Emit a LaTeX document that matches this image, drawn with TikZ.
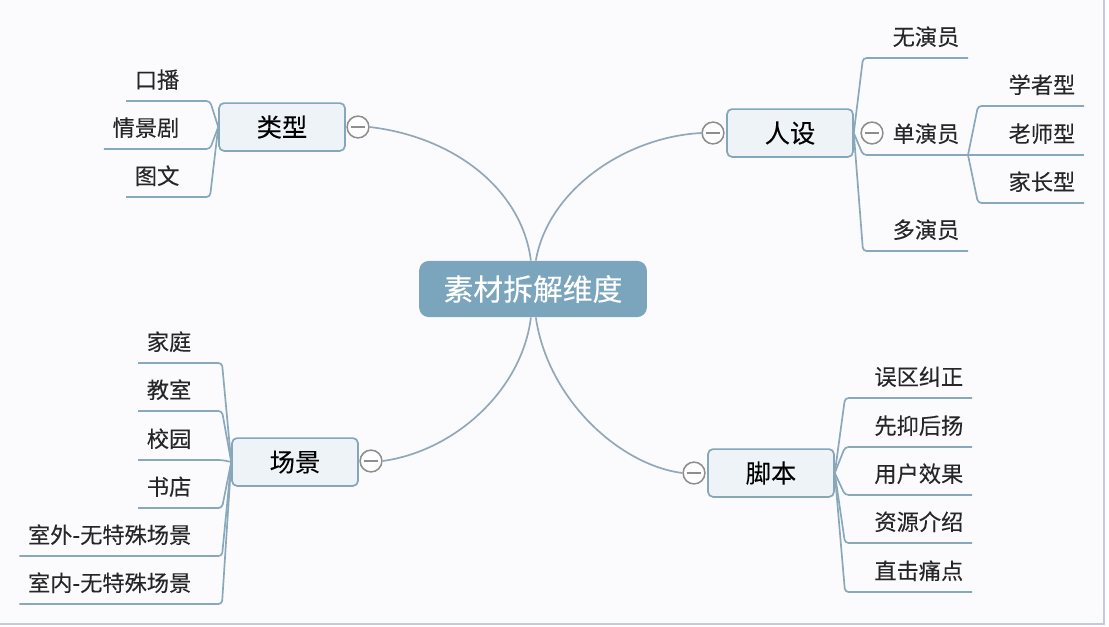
\documentclass[tikz,border=0pt]{standalone}
\usepackage{fontspec}
\setmainfont[FakeBold=0.12]{Noto Sans CJK SC}
\usetikzlibrary{positioning}

\definecolor{rootblue}{HTML}{7BA4BD}
\definecolor{topicfill}{HTML}{EEF3F8}
\definecolor{topicline}{HTML}{86A6BA}
\definecolor{branchline}{HTML}{8AA8BB}
\definecolor{curveline}{HTML}{93A8B6}
\definecolor{foldline}{HTML}{8E8E8E}
\definecolor{pagefill}{HTML}{FBFBFD}
\definecolor{edgeline}{HTML}{C3C7E8}

\tikzset{
  root/.style = {fill = rootblue, text = white, rounded corners = 7pt, minimum width = 162pt, minimum height = 40pt, font = \fontsize{21.2}{24}\selectfont},
  topic/.style = {draw = topicline, fill = topicfill, line width = 1.2pt, rounded corners = 3.5pt, minimum width = 89.5pt, minimum height = 34pt, inner sep = 0pt, font = \fontsize{18}{21}\selectfont},
  leaf/.style = {inner xsep = 6pt, inner ysep = 0pt, minimum height = 29.9pt, text = black!85, font = \fontsize{15.8}{19}\selectfont},
  fold/.style = {circle, draw = foldline, fill = white, line width = 1.1pt, minimum size = 15.5pt, inner sep = 0pt,
    path picture = {\draw[foldline, line width = 1.1pt] ([xshift = -5pt]path picture bounding box.center) -- ([xshift = 5pt]path picture bounding box.center);}},
  branch/.style = {draw = branchline, line width = 1.2pt, rounded corners = 2.5pt},
  curve/.style = {draw = curveline, line width = 1.2pt}
}

\begin{document}
\begin{tikzpicture}[x = 0.025cm, y = -0.025cm]
\useasboundingbox (0, 0) rectangle (1109, 626);
\fill[white] (0, 0) rectangle (1109, 626);
\draw[edgeline, line width = 1.6pt, fill = pagefill] (-5, -5) rectangle (1104, 624);

% main topics
\node[root] (root) at (533, 289) {素材拆解维度};
\node[topic] (type) at (282, 127) {类型};
\node[topic] (person) at (790, 133) {人设};
\node[topic] (scene) at (295, 462) {场景};
\node[topic] (script) at (771, 473) {脚本};

\node[fold] (typefold) at (358, 127) {};
\node[fold] (personfold) at (713, 133) {};
\node[fold] (scenefold) at (371, 461) {};
\node[fold] (scriptfold) at (694, 473) {};

% type leaves
\node[leaf, anchor = south east] (kou) at (188, 101) {口播};
\node[leaf, anchor = south east] (qing) at (188, 149) {情景剧};
\node[leaf, anchor = south east] (tu) at (188, 197) {图文};

% person leaves
\node[leaf, anchor = south east] (wu) at (968, 58) {无演员};
\node[leaf, anchor = south east] (dan) at (968, 155) {单演员};
\node[leaf, anchor = south east] (duo) at (968, 251) {多演员};
\node[fold] (danfold) at (872, 133) {};
\node[leaf, anchor = south east] (xue) at (1084, 106) {学者型};
\node[leaf, anchor = south east] (lao) at (1084, 155) {老师型};
\node[leaf, anchor = south east] (jia) at (1084, 203) {家长型};

% scene leaves
\node[leaf, anchor = south east] (home) at (200, 363) {家庭};
\node[leaf, anchor = south east] (room) at (200, 411) {教室};
\node[leaf, anchor = south east] (campus) at (200, 460) {校园};
\node[leaf, anchor = south east] (shop) at (200, 508) {书店};
\node[leaf, anchor = south east] (outdoor) at (200, 556) {室外-无特殊场景};
\node[leaf, anchor = south east] (indoor) at (200, 604) {室内-无特殊场景};

% script leaves
\node[leaf, anchor = south east] (wrong) at (972, 398) {误区纠正};
\node[leaf, anchor = south east] (first) at (972, 447) {先抑后扬};
\node[leaf, anchor = south east] (effect) at (972, 495) {用户效果};
\node[leaf, anchor = south east] (source) at (972, 543) {资源介绍};
\node[leaf, anchor = south east] (pain) at (972, 592) {直击痛点};

\coordinate (typeknee) at (210, 127);
\coordinate (personknee) at (863, 133);
\coordinate (dansplit) at (978, 155);
\coordinate (sceneknee) at (222, 461);
\coordinate (scriptknee) at (845, 473);

% curves to the root
\draw[curve] (typefold.east) .. controls (455, 137) and (522, 190) .. ([xshift = -1.5pt]root.north);
\draw[curve] (personfold.west) .. controls (625, 137) and (548, 190) .. ([xshift = 2pt]root.north);
\draw[curve] (scenefold.east) .. controls (455, 451) and (522, 390) .. ([xshift = -1.5pt]root.south);
\draw[curve] (scriptfold.west) .. controls (620, 465) and (548, 400) .. ([xshift = 2pt]root.south);

% branches
\draw[branch] (kou.south west) -- (kou.south west -| typeknee) -- (type.west);
\draw[branch] (qing.south west) -- (qing.south west -| typeknee) -- (type.west);
\draw[branch] (tu.south west) -- (tu.south west -| typeknee) -- (type.west);

\draw[branch] (wu.south east) -- (wu.south east -| personknee) -- (person.east);
\draw[branch] (dan.south east) -- (dan.south east -| personknee) -- (person.east);
\draw[branch] (duo.south east) -- (duo.south east -| personknee) -- (person.east);

\draw[branch] (xue.south east) -- (xue.south east -| dansplit) -- (dan.south east);
\draw[branch] (lao.south east) -- (dan.south east);
\draw[branch] (jia.south east) -- (jia.south east -| dansplit) -- (dan.south east);

\draw[branch] (home.south west) -- (home.south west -| sceneknee) -- (scene.west);
\draw[branch] (room.south west) -- (room.south west -| sceneknee) -- (scene.west);
\draw[branch] (campus.south west) -- (campus.south west -| sceneknee) -- (scene.west);
\draw[branch] (shop.south west) -- (shop.south west -| sceneknee) -- (scene.west);
\draw[branch] (outdoor.south west) -- (outdoor.south west -| sceneknee) -- (scene.west);
\draw[branch] (indoor.south west) -- (indoor.south west -| sceneknee) -- (scene.west);

\draw[branch] (wrong.south east) -- (wrong.south east -| scriptknee) -- (script.east);
\draw[branch] (first.south east) -- (first.south east -| scriptknee) -- (script.east);
\draw[branch] (effect.south east) -- (effect.south east -| scriptknee) -- (script.east);
\draw[branch] (source.south east) -- (source.south east -| scriptknee) -- (script.east);
\draw[branch] (pain.south east) -- (pain.south east -| scriptknee) -- (script.east);
\end{tikzpicture}
\end{document}
